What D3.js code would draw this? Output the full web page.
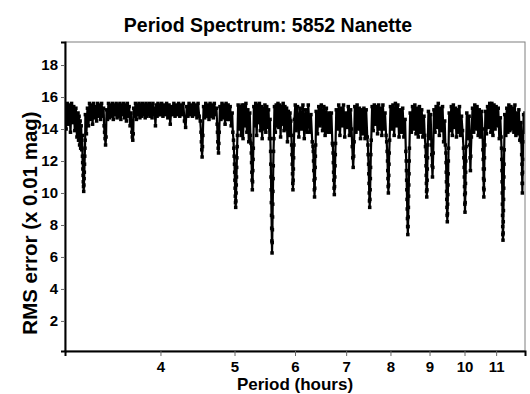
<!DOCTYPE html>
<html><head><meta charset="utf-8">
<script src="https://cdn.jsdelivr.net/npm/d3@7"></script>
<style>body{margin:0;background:#fff}svg{display:block}</style>
</head><body><svg id="c" width="530" height="394"></svg>
<script>
const titleText = "Period Spectrum: 5852 Nanette";
const xLabel = "Period (hours)";
const yLabel = "RMS error (x 0.01 mag)";
const xTicks = [4, 5, 6, 7, 8, 9, 10, 11];
const yTicks = [2, 4, 6, 8, 10, 12, 14, 16, 18];

const periodHours = [
3.00,3.01,3.02,3.03,3.04,3.05,3.06,3.07,3.08,3.09,
3.10,3.11,3.12,3.125,3.13,3.135,3.14,3.145,3.15,3.155,
3.16,3.162,3.164,3.166,3.168,3.170,3.172,3.174,3.176,3.178,
3.180,3.182,3.184,3.186,3.188,3.19,3.20,3.21,3.22,3.23,
3.24,3.25,3.26,3.27,3.28,3.29,3.30,3.31,3.32,3.33,
3.34,3.35,3.36,3.37,3.375,3.38,3.385,3.39,3.395,3.40,
3.41,3.42,3.43,3.44,3.45,3.46,3.47,3.48,3.49,3.50,
3.51,3.52,3.53,3.54,3.55,3.56,3.57,3.58,3.59,3.60,
3.61,3.62,3.63,3.64,3.65,3.66,3.67,3.675,3.68,3.685,
3.69,3.70,3.71,3.72,3.73,3.74,3.75,3.76,3.77,3.78,
3.79,3.80,3.81,3.82,3.83,3.84,3.85,3.86,3.87,3.88,
3.89,3.90,3.91,3.92,3.93,3.94,3.95,3.96,3.97,3.98,
3.99,4.00,4.015,4.03,4.045,4.06,4.075,4.09,4.105,4.12,
4.135,4.15,4.165,4.18,4.195,4.21,4.225,4.24,4.255,4.27,
4.285,4.30,4.315,4.33,4.345,4.36,4.375,4.39,4.405,4.42,
4.435,4.45,4.465,4.48,4.495,4.51,4.52,4.525,4.53,4.535,
4.54,4.545,4.555,4.57,4.585,4.60,4.615,4.63,4.645,4.66,
4.675,4.69,4.705,4.72,4.735,4.745,4.75,4.755,4.76,4.765,
4.77,4.775,4.785,4.80,4.815,4.83,4.845,4.86,4.875,4.89,
4.905,4.92,4.935,4.95,4.965,4.975,4.985,4.99,4.995,5.000,
5.003,5.006,5.009,5.012,5.015,5.018,5.021,5.024,5.027,5.030,
5.033,5.036,5.04,5.045,5.055,5.07,5.085,5.10,5.115,5.13,
5.145,5.16,5.175,5.19,5.205,5.22,5.235,5.245,5.255,5.26,
5.264,5.268,5.272,5.276,5.280,5.284,5.288,5.292,5.30,5.315,
5.33,5.345,5.36,5.375,5.39,5.405,5.42,5.435,5.45,5.465,
5.48,5.495,5.51,5.525,5.54,5.555,5.565,5.57,5.575,5.578,
5.581,5.584,5.587,5.590,5.593,5.596,5.599,5.602,5.605,5.608,
5.611,5.614,5.617,5.620,5.624,5.63,5.64,5.655,5.67,5.685,
5.70,5.715,5.73,5.745,5.76,5.775,5.79,5.805,5.82,5.835,
5.85,5.865,5.88,5.895,5.91,5.925,5.935,5.94,5.945,5.95,
5.955,5.96,5.963,5.967,5.971,5.975,5.98,5.99,6.005,6.02,
6.045,6.07,6.095,6.12,6.145,6.17,6.195,6.22,6.245,6.27,
6.295,6.32,6.335,6.34,6.345,6.35,6.355,6.36,6.364,6.368,
6.372,6.376,6.38,6.385,6.395,6.42,6.445,6.47,6.495,6.52,
6.545,6.57,6.595,6.62,6.645,6.67,6.695,6.715,6.725,6.73,
6.735,6.74,6.745,6.75,6.755,6.76,6.765,6.77,6.775,6.78,
6.795,6.82,6.845,6.87,6.895,6.92,6.945,6.97,6.995,7.02,
7.045,7.07,7.095,7.115,7.13,7.14,7.15,7.16,7.17,7.185,
7.21,7.235,7.26,7.285,7.31,7.335,7.36,7.385,7.41,7.435,
7.46,7.475,7.48,7.49,7.495,7.50,7.505,7.51,7.515,7.52,
7.525,7.53,7.535,7.54,7.55,7.57,7.595,7.62,7.645,7.67,
7.695,7.72,7.745,7.77,7.795,7.82,7.845,7.87,7.895,7.91,
7.92,7.93,7.935,7.94,7.945,7.95,7.955,7.96,7.965,7.97,
7.98,8.00,8.03,8.06,8.09,8.12,8.15,8.18,8.21,8.24,
8.27,8.30,8.33,8.36,8.38,8.39,8.395,8.40,8.405,8.41,
8.415,8.42,8.425,8.43,8.435,8.44,8.445,8.45,8.455,8.46,
8.465,8.47,8.49,8.52,8.55,8.58,8.61,8.64,8.67,8.70,
8.73,8.76,8.79,8.82,8.85,8.87,8.89,8.90,8.905,8.91,
8.915,8.92,8.925,8.93,8.935,8.94,8.945,8.95,8.97,9.00,
9.03,9.05,9.06,9.07,9.08,9.09,9.10,9.12,9.15,9.18,
9.21,9.24,9.27,9.30,9.33,9.36,9.39,9.42,9.44,9.455,
9.46,9.465,9.47,9.475,9.48,9.485,9.49,9.495,9.50,9.505,
9.51,9.515,9.52,9.525,9.53,9.55,9.58,9.61,9.64,9.67,
9.70,9.73,9.76,9.79,9.82,9.85,9.88,9.91,9.94,9.97,
9.98,9.99,9.995,10.00,10.005,10.01,10.015,10.02,10.025,10.03,
10.035,10.04,10.05,10.07,10.105,10.14,10.16,10.17,10.18,10.19,
10.21,10.245,10.28,10.315,10.35,10.385,10.42,10.455,10.49,10.525,
10.555,10.57,10.58,10.585,10.59,10.595,10.60,10.605,10.61,10.615,
10.62,10.63,10.65,10.685,10.72,10.755,10.79,10.825,10.86,10.895,
10.93,10.965,11.00,11.035,11.07,11.105,11.14,11.165,11.18,11.19,
11.195,11.20,11.205,11.21,11.215,11.22,11.225,11.23,11.235,11.24,
11.245,11.25,11.255,11.26,11.265,11.27,11.29,11.325,11.36,11.395,
11.43,11.465,11.50,11.535,11.57,11.605,11.64,11.675,11.71,11.745,
11.78,11.815,11.85,11.87,11.88,11.89,11.895,11.90,11.905,11.91,
11.915,11.92,11.93,11.95,11.975,12.00
];

const rmsError = [
15.3,14.0,15.6,14.3,15.5,13.8,15.6,14.4,15.4,13.9,
15.3,13.5,15.0,13.3,14.8,13.0,14.5,12.8,14.2,12.7,
13.6,12.3,11.9,11.5,11.1,10.7,10.4,10.1,10.5,10.9,
11.3,11.8,12.3,12.8,13.3,14.9,13.7,15.3,14.2,15.6,
14.6,15.5,14.3,15.6,14.7,15.4,14.5,15.6,14.8,15.5,
14.6,15.6,14.8,15.3,14.2,13.8,13.4,13.0,13.5,15.2,
14.6,15.6,14.7,15.5,14.8,15.6,14.6,15.5,14.9,15.6,
14.7,15.5,14.8,15.6,14.6,15.5,14.9,15.6,14.7,15.5,
14.5,15.6,14.8,15.4,14.2,15.0,13.8,13.5,13.3,13.7,
15.3,14.8,15.6,14.6,15.5,14.9,15.6,14.7,15.5,14.8,
15.6,14.9,15.5,14.7,15.6,14.8,15.5,14.9,15.6,14.8,
15.5,14.7,15.6,14.9,15.3,14.2,15.5,14.8,15.6,14.9,
15.5,14.9,15.6,14.8,15.5,14.9,15.6,14.7,15.5,14.3,
15.4,14.9,15.6,14.8,15.5,14.9,15.6,14.8,15.5,14.9,
15.6,14.5,14.1,15.4,14.8,15.6,14.9,15.5,14.8,15.6,
14.9,15.5,14.7,15.6,14.8,14.5,13.8,13.2,12.7,12.25,
12.9,13.6,15.4,14.7,15.6,14.8,15.5,14.6,15.6,14.8,
15.5,14.7,15.6,14.9,15.3,14.3,13.8,13.2,12.8,12.5,
13.1,13.8,15.4,14.6,15.6,14.7,15.5,14.3,15.6,14.6,
15.5,14.6,15.4,14.2,15.0,13.8,13.3,12.8,12.3,11.8,
11.3,10.8,10.3,9.8,9.4,9.1,9.5,10.0,10.5,11.0,
11.6,12.2,12.9,13.6,15.5,14.0,15.4,13.6,15.5,13.4,
15.5,14.2,15.6,13.8,15.2,13.2,15.0,13.6,13.1,12.5,
11.9,11.3,10.8,10.2,10.7,11.4,12.1,12.8,15.4,14.2,
15.6,13.6,15.5,14.4,15.6,13.9,15.4,13.4,15.3,14.0,
15.5,13.8,15.4,14.1,15.2,13.4,14.6,13.4,12.6,11.8,
11.0,10.2,9.4,8.6,7.8,7.0,6.25,6.9,7.7,8.5,
9.3,10.1,10.9,11.7,12.6,13.4,15.4,13.8,15.5,14.2,
15.6,14.1,15.5,13.5,15.4,14.3,15.6,13.9,15.4,14.0,
15.3,13.2,15.1,13.6,15.0,14.5,13.6,13.0,12.4,11.8,
11.2,10.6,10.2,10.8,11.5,12.2,13.0,14.6,15.5,13.9,
15.4,13.5,15.3,14.0,15.5,13.4,15.2,13.8,15.5,13.8,
14.9,13.2,12.9,12.6,12.0,11.4,10.8,10.2,9.75,10.3,
10.9,11.6,12.3,13.0,15.1,13.7,15.4,14.2,15.5,13.9,
15.4,13.6,15.3,13.8,15.0,13.8,15.0,13.1,13.0,12.5,
11.9,11.3,10.8,10.3,9.9,10.4,11.0,11.7,12.4,13.1,
15.2,14.0,15.5,13.6,15.3,14.2,15.5,13.5,15.0,14.1,
15.4,13.6,15.2,14.0,12.9,12.2,11.6,12.3,13.2,15.4,
13.8,15.5,14.0,15.3,13.4,15.2,13.7,15.3,13.4,15.2,
13.5,13.0,12.4,11.8,11.2,10.6,10.0,9.5,9.1,9.6,
10.2,10.9,11.6,12.4,13.3,15.4,13.9,15.5,14.3,15.4,
13.7,15.5,14.0,15.3,13.6,15.5,14.0,15.0,13.6,13.2,
12.6,12.0,11.4,10.9,10.4,10.0,10.5,11.1,11.8,12.5,
13.3,15.4,14.0,15.5,13.6,15.6,14.2,15.5,13.5,15.2,
13.8,15.3,13.5,14.6,12.6,12.0,11.4,10.8,10.2,9.6,
9.0,8.4,7.9,7.4,7.9,8.5,9.1,9.8,10.5,11.2,
12.0,12.8,15.0,13.8,15.4,14.0,15.5,13.7,15.3,13.5,
15.4,13.8,15.2,13.5,14.8,13.6,12.9,12.3,11.7,11.1,
10.6,10.1,9.75,10.2,10.8,11.5,12.2,13.0,15.1,13.4,
14.9,13.0,12.4,11.7,11.0,11.6,12.5,15.2,13.8,15.4,
14.1,15.6,13.6,15.3,13.9,15.4,13.2,14.5,13.0,12.5,
11.9,11.3,10.7,10.1,9.6,9.1,8.6,8.2,8.7,9.3,
9.9,10.5,11.2,12.0,12.8,15.0,13.9,15.4,13.6,15.5,
14.1,15.3,13.5,15.2,13.8,15.4,13.6,14.8,13.9,12.8,
12.2,11.6,11.0,10.4,9.9,9.3,8.8,9.4,10.0,10.6,
11.3,12.0,12.9,15.0,13.4,14.8,13.0,12.2,11.4,12.3,
13.5,15.3,13.8,15.5,14.0,15.4,13.6,15.2,13.5,15.1,
14.0,12.7,12.1,11.5,10.9,10.3,9.75,10.2,10.8,11.5,
12.2,13.0,15.1,13.7,15.4,14.1,15.6,13.8,15.6,13.6,
15.5,14.0,15.4,14.2,15.3,13.4,14.7,13.5,12.8,12.1,
11.4,10.7,10.0,9.3,8.6,7.9,7.4,7.05,7.5,8.2,
8.9,9.6,10.3,11.0,11.8,12.7,14.9,13.6,15.3,13.8,
15.5,13.9,15.4,14.0,15.3,13.8,15.5,13.6,15.0,13.7,
15.2,13.3,14.4,13.2,12.4,11.8,11.2,10.6,10.0,10.6,
11.3,12.1,13.2,14.9,13.8,15.0
];

const W = 530, H = 394;
const plot = { left: 65, right: 525, top: 42, bottom: 351 };
const svg = d3.select("#c");
const font = "'Liberation Sans', Arial, sans-serif";

const x = d3.scaleLog().domain([3, 12]).range([plot.left, plot.right]);
const y = d3.scaleLinear().domain([0.12, 19.44]).range([plot.bottom, plot.top]);

svg.append("rect").attr("width", W).attr("height", H).attr("fill", "#fff");

svg.append("clipPath").attr("id", "clip").append("rect")
  .attr("x", plot.left).attr("y", plot.top)
  .attr("width", plot.right - plot.left).attr("height", plot.bottom - plot.top);

const n = Math.min(periodHours.length, rmsError.length);
const pts = d3.range(n).map(i => [periodHours[i], rmsError[i]]);
const g = svg.append("g").attr("clip-path", "url(#clip)");
g.append("path")
  .datum(pts)
  .attr("fill", "none")
  .attr("stroke", "#000")
  .attr("stroke-width", 2.2)
  .attr("stroke-linejoin", "miter")
  .attr("d", d3.line().x(d => x(d[0])).y(d => y(d[1])));
g.selectAll("rect.m").data(pts).join("rect")
  .attr("class", "m")
  .attr("x", d => x(d[0]) - 1.75).attr("y", d => y(d[1]) - 1.75)
  .attr("width", 3.5).attr("height", 3.5).attr("fill", "#000");

svg.append("rect")
  .attr("x", plot.left).attr("y", plot.top)
  .attr("width", plot.right - plot.left).attr("height", plot.bottom - plot.top)
  .attr("fill", "none").attr("stroke", "#7f7f7f").attr("stroke-width", 1);

const xAxis = svg.append("g").attr("transform", `translate(0,${plot.bottom})`)
  .call(d3.axisBottom(x).tickValues(xTicks).tickFormat(d3.format("d")).tickSize(5).tickPadding(5));
const yAxis = svg.append("g").attr("transform", `translate(${plot.left},0)`)
  .call(d3.axisLeft(y).tickValues(yTicks).tickSize(4).tickPadding(3));
[xAxis, yAxis].forEach(a => {
  a.select(".domain").attr("stroke", "#000").attr("stroke-width", 2);
  a.selectAll(".tick line").attr("stroke", "#666");
  a.selectAll(".tick text").attr("fill", "#000")
    .style("font-family", font).style("font-size", "15px").style("font-weight", "bold");
});

svg.append("text").attr("x", 268).attr("y", 32).attr("text-anchor", "middle")
  .style("font-family", font).style("font-size", "19.5px").style("font-weight", "bold")
  .text(titleText);
svg.append("text").attr("x", 295).attr("y", 390).attr("text-anchor", "middle")
  .style("font-family", font).style("font-size", "17px").style("font-weight", "bold")
  .text(xLabel);
svg.append("text").attr("transform", "translate(37,223) rotate(-90)").attr("text-anchor", "middle")
  .style("font-family", font).style("font-size", "20.5px").style("font-weight", "bold")
  .text(yLabel);
</script>
</body></html>
